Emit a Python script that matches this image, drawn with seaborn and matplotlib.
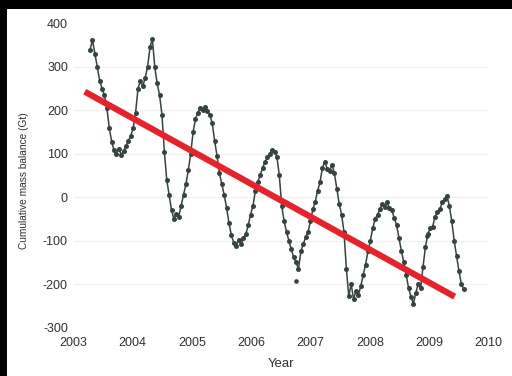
import numpy as np
import pandas as pd
import matplotlib
matplotlib.use("Agg")
import matplotlib.pyplot as plt
import seaborn as sns

# Cumulative mass balance (Gt), sampled roughly every 15 days from 2003.28 on
first_year = 2003.28
sample_step = 0.0404
mass_2003 = [340, 362, 330, 300, 268, 250, 235, 205, 160, 128, 108, 100, 112, 98, 106, 118, 130, 142]
mass_2004 = [160, 195, 250, 268, 255, 275, 300, 345, 365, 300, 262, 235, 190, 105, 40, 5, -30, -50,
             -38, -45, -20, 5, 30, 62, 100]
mass_2005 = [150, 180, 195, 205, 200, 208, 198, 190, 170, 130, 95, 55, 30, 5, -25, -60, -88, -105,
             -112, -98, -108, -95, -85, -65, -40]
mass_2006 = [-20, 15, 35, 50, 68, 80, 92, 100, 108, 105, 92, 50, -20, -55, -80, -100, -120, -138,
             -150, -165, -125, -108, -92, -80, -55]
mass_2007 = [-28, -10, 15, 35, 68, 82, 65, 60, 75, 55, 20, -15, -40, -80, -165, -228, -200, -235,
             -215, -225, -205, -180, -155, -125, -100]
mass_2008 = [-72, -50, -40, -28, -15, -22, -12, -25, -30, -48, -65, -95, -125, -150, -180, -210, -230,
             -245, -220, -200, -210, -160, -115, -85, -72]
mass_2009 = [-68, -45, -35, -28, -12, -5, 3, -20, -55, -100, -135, -170, -200, -212]

# Isolated solutions away from the curve
outlier_year = [2006.76, 2008.97]
outlier_mass = [-193, -90]

# Linear trend end points
trend_year = [2003.19, 2009.43]
trend_mass = [243, -229]

x_ticks = [2003, 2004, 2005, 2006, 2007, 2008, 2009, 2010]
y_ticks = [-300, -200, -100, 0, 100, 200, 300, 400]

mass = mass_2003 + mass_2004 + mass_2005 + mass_2006 + mass_2007 + mass_2008 + mass_2009
years = first_year + sample_step * np.arange(len(mass))
series = pd.DataFrame({"Year": years, "Mass": mass})
trend = pd.DataFrame({"Year": trend_year, "Mass": trend_mass})
outliers = pd.DataFrame({"Year": outlier_year, "Mass": outlier_mass})

sns.set_theme(style="white")
plt.rcParams["font.family"] = ["Liberation Sans", "DejaVu Sans"]

fig = plt.figure(figsize=(5.12, 3.76), dpi=100, facecolor="black")
# white page inside the dark frame
fig.patches.append(plt.Rectangle((7 / 512, 0), 1 - 7 / 512, 1 - 9 / 376,
                                 transform=fig.transFigure, facecolor="white",
                                 edgecolor="none", zorder=-10))
ax = fig.add_axes([73.5 / 512, 1 - 327.5 / 376, 415 / 512, 304 / 376])
ax.set_zorder(5)
ax.set_facecolor("none")
ax.patch.set_alpha(0)

for v in y_ticks:
    ax.axhline(v, color="#f1f1f1", lw=1.0, zorder=0)

dot_color = "#36443d"
sns.lineplot(data=series, x="Year", y="Mass", ax=ax, color=dot_color, lw=1.1,
             marker="o", markersize=3.6, markeredgewidth=0, zorder=3)
sns.scatterplot(data=outliers, x="Year", y="Mass", ax=ax, color=dot_color, s=11,
                linewidth=0, zorder=3)
sns.lineplot(data=trend, x="Year", y="Mass", ax=ax, color="#e4232c", lw=4.5,
             solid_capstyle="butt", zorder=4)

ax.set_xlim(2003, 2010)
ax.set_ylim(-300, 400)
ax.set_xticks(x_ticks)
ax.set_yticks(y_ticks)
ax.set_xticklabels([str(t) for t in x_ticks])
ax.set_yticklabels([str(t) for t in y_ticks])
ax.tick_params(axis="x", length=0, pad=6.5, labelsize=9, labelcolor="#303030")
ax.tick_params(axis="y", length=0, pad=4, labelsize=9, labelcolor="#303030")
for s in ax.spines.values():
    s.set_visible(False)
ax.grid(False)

ax.set_xlabel("Year", fontsize=9.5, color="#303030", labelpad=7)
ax.set_ylabel("Cumulative mass balance (Gt)", fontsize=7.3, color="#303030")
ax.yaxis.set_label_coords(-0.108, 0.482)

fig.savefig("out.png", dpi=100, facecolor="black")
